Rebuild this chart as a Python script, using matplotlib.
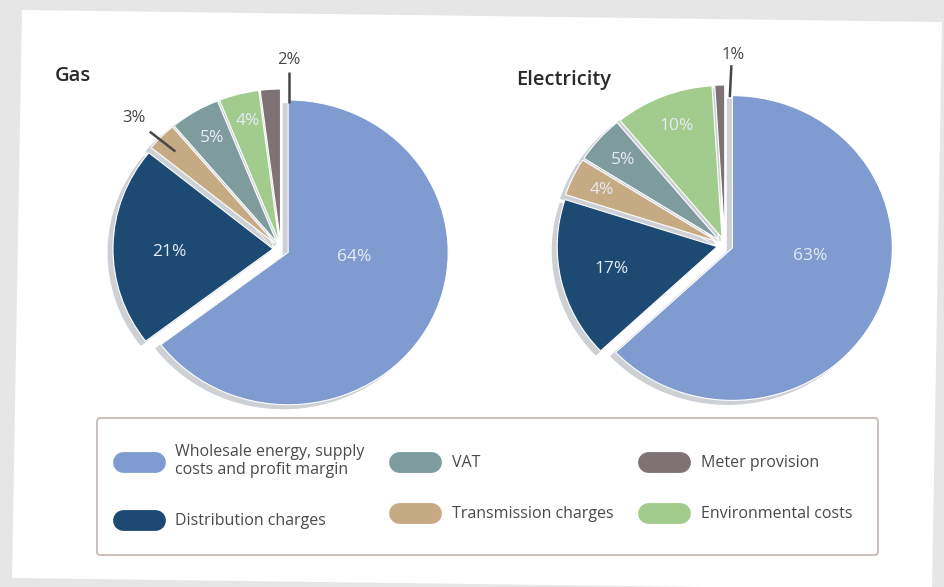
import numpy as np
import matplotlib.pyplot as plt
from matplotlib.patches import Polygon
from matplotlib.lines import Line2D

plt.rcParams['font.family'] = ['Open Sans', 'DejaVu Sans']

# data
categories = ["Wholesale energy, supply\ncosts and profit margin", "Distribution charges",
              "Transmission charges", "VAT", "Environmental costs", "Meter provision"]
gas_values = [64, 21, 3, 5, 4, 2]
elec_values = [63, 17, 4, 5, 10, 1]
gas_labels = ["64%", "21%", "3%", "5%", "4%", "2%"]
elec_labels = ["63%", "17%", "4%", "5%", "10%", "1%"]

colors = ["#7F9BD0", "#1D4A73", "#C6AA84", "#7E9B9E", "#A2CB8E", "#7E7274"]
shadow_col = "#CDD1D6"
inside_txt = "#E6ECF3"
outside_txt = "#474747"

W, H = 944, 587
fig = plt.figure(figsize=(W / 100, H / 100), dpi=100, facecolor="#E6E6E6")

# page
page = Polygon([(22 / W, 1 - 10 / H), (942 / W, 1 - 22 / H), (932 / W, 1 - 590 / H), (12 / W, 1 - 578 / H)],
               closed=True, transform=fig.transFigure, facecolor="white", edgecolor="none", zorder=-5)
fig.patches.append(page)


def draw_pie(ax, values, labels, inside_pos, outside):
    explode = [0.05] * len(values)
    ax.pie(values, colors=[shadow_col] * len(values), startangle=90, counterclock=False,
           explode=explode, center=(-0.03, -0.025), radius=1.0,
           wedgeprops=dict(edgecolor=shadow_col, linewidth=1))
    ax.pie(values, colors=colors, startangle=90, counterclock=False,
           explode=explode, radius=1.0, wedgeprops=dict(edgecolor="white", linewidth=0.8))
    for i, lab in enumerate(labels):
        if i in outside:
            tx, ty, lx0, ly0, lx1, ly1 = outside[i]
            ax.text(tx, ty, lab, ha="center", va="center", fontsize=12, color=outside_txt)
            ax.plot([lx0, lx1], [ly0, ly1], color="#474747", lw=1.8, solid_capstyle="butt")
        else:
            x, y = inside_pos[i]
            ax.text(x, y, lab, ha="center", va="center", fontsize=12.5, color=inside_txt)
    # photo is slightly squashed vertically
    ax.set_xlim(-1.25, 1.25)
    ax.set_ylim(-1.25 * 1.05, 1.25 * 1.05)
    ax.set_aspect("auto")
    ax.axis("off")


ax1 = fig.add_axes([81 / W, 1 - 449 / H, 400 / W, 400 / H])
ax1.set_facecolor("none")
draw_pie(ax1, gas_values, gas_labels,
         {0: (0.46, -0.05), 1: (-0.70, -0.02), 3: (-0.43, 0.73), 4: (-0.21, 0.84)},
         {2: (-0.92, 0.86, -0.82, 0.77, -0.66, 0.64),
          5: (0.05, 1.24, 0.05, 1.16, 0.05, 0.96)})

ax2 = fig.add_axes([525 / W, 1 - 445 / H, 400 / W, 400 / H])
ax2.set_facecolor("none")
draw_pie(ax2, elec_values, elec_labels,
         {0: (0.53, -0.07), 1: (-0.71, -0.16), 2: (-0.77, 0.36), 3: (-0.64, 0.56), 4: (-0.30, 0.78)},
         {5: (0.05, 1.25, 0.04, 1.18, 0.03, 0.97)})

fig.text(55 / W, 1 - 76 / H, "Gas", fontsize=14.5, fontweight="semibold", color="#2A2A2A", va="center")
fig.text(516 / W, 1 - 80 / H, "Electricity", fontsize=14.5, fontweight="semibold", color="#2A2A2A", va="center")

# legend: column order wholesale, distribution | VAT, transmission | meter, environmental
order = [0, 1, 3, 2, 5, 4]
handles = [Line2D([0], [0], color=colors[i], lw=15, solid_capstyle="round") for i in order]
leg = fig.legend(handles, [categories[i] for i in order], ncol=3,
                 loc="lower left", bbox_to_anchor=(97 / W, 1 - 555 / H, 781 / W, 137 / H),
                 mode="expand", fontsize=11.5, frameon=True, fancybox=True,
                 handlelength=2.0, handletextpad=1.3, labelspacing=2.2,
                 borderpad=1.6, borderaxespad=0, labelcolor="#4A4A4A")
leg.get_frame().set_edgecolor("#B9A8A2")
leg.get_frame().set_linewidth(1.3)
leg.get_frame().set_facecolor("white")

fig.savefig("out.png", dpi=100, facecolor=fig.get_facecolor())
